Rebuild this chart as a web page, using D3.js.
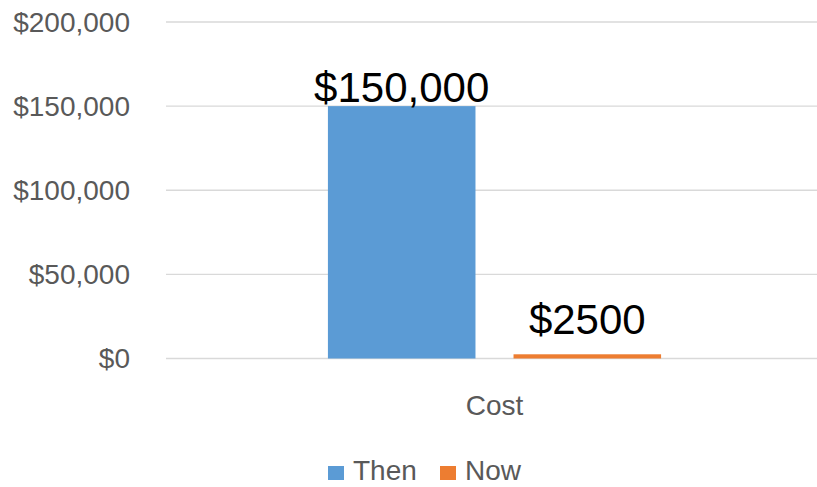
<!DOCTYPE html>
<html>
<head>
<meta charset="utf-8">
<script src="https://cdn.jsdelivr.net/npm/d3@7"></script>
<style>
  body { margin: 0; background: #fff; }
  svg { display: block; font-family: "Liberation Sans", Arial, sans-serif; }
</style>
</head>
<body>
<svg id="chart" width="817" height="487"></svg>
<script>
// data
const categories = ["Cost"];
const seriesNames = ["Then", "Now"];
const thenValues = [150000];
const nowValues = [2500];
const dataLabels = ["$150,000", "$2500"];
const yTicks = [0, 50000, 100000, 150000, 200000];

const colors = { Then: "#5B9BD5", Now: "#ED7D31" };
const labelLift = { Then: 4, Now: 20 };

const width = 817, height = 487;
const plot = { left: 166, right: 823, top: 22, bottom: 358.5 };

const svg = d3.select("#chart");

const y = d3.scaleLinear().domain([0, 200000]).range([plot.bottom, plot.top]);
const x0 = d3.scaleBand().domain(categories).range([plot.left, plot.right]).paddingOuter(0.486);
const x1 = d3.scaleBand().domain(seriesNames).range([0, x0.bandwidth()]).paddingInner(0.205);

const fmt = d => "$" + d3.format(",")(d);

// gridlines
svg.append("g")
    .selectAll("line")
    .data(yTicks)
    .join("line")
    .attr("x1", plot.left)
    .attr("x2", width)
    .attr("y1", d => y(d))
    .attr("y2", d => y(d))
    .attr("stroke", "#D9D9D9")
    .attr("stroke-width", 1.3);

// y axis labels
svg.append("g")
    .selectAll("text")
    .data(yTicks)
    .join("text")
    .attr("x", 130)
    .attr("y", d => y(d))
    .attr("dy", "0.35em")
    .attr("text-anchor", "end")
    .attr("fill", "#595959")
    .style("font-size", "28px")
    .text(fmt);

// bars
const rows = categories.map((c, i) => ({
    category: c,
    values: [
        { key: "Then", value: thenValues[i], label: dataLabels[0] },
        { key: "Now", value: nowValues[i], label: dataLabels[1] }
    ]
}));

const groups = svg.append("g")
    .selectAll("g")
    .data(rows)
    .join("g")
    .attr("transform", d => "translate(" + x0(d.category) + ",0)");

groups.selectAll("rect")
    .data(d => d.values)
    .join("rect")
    .attr("x", d => x1(d.key))
    .attr("y", d => y(d.value))
    .attr("width", x1.bandwidth())
    .attr("height", d => y(0) - y(d.value))
    .attr("fill", d => colors[d.key]);

groups.selectAll("text.lbl")
    .data(d => d.values)
    .join("text")
    .attr("class", "lbl")
    .attr("x", d => x1(d.key) + x1.bandwidth() / 2)
    .attr("y", d => y(d.value) - labelLift[d.key])
    .attr("text-anchor", "middle")
    .attr("fill", "#000")
    .style("font-size", "42px")
    .text(d => d.label);

// category label
svg.append("g")
    .selectAll("text")
    .data(categories)
    .join("text")
    .attr("x", d => x0(d) + x0.bandwidth() / 2)
    .attr("y", 415)
    .attr("text-anchor", "middle")
    .attr("fill", "#595959")
    .style("font-size", "28px")
    .text(d => d);

// legend
const legendX = [328, 440];
const legend = svg.append("g")
    .selectAll("g")
    .data(seriesNames)
    .join("g")
    .attr("transform", (d, i) => "translate(" + legendX[i] + ",0)");

legend.append("rect")
    .attr("x", 0)
    .attr("y", 466)
    .attr("width", 16)
    .attr("height", 14)
    .attr("fill", d => colors[d]);

legend.append("text")
    .attr("x", 25)
    .attr("y", 480)
    .attr("fill", "#595959")
    .style("font-size", "28px")
    .text(d => d);
</script>
</body>
</html>
